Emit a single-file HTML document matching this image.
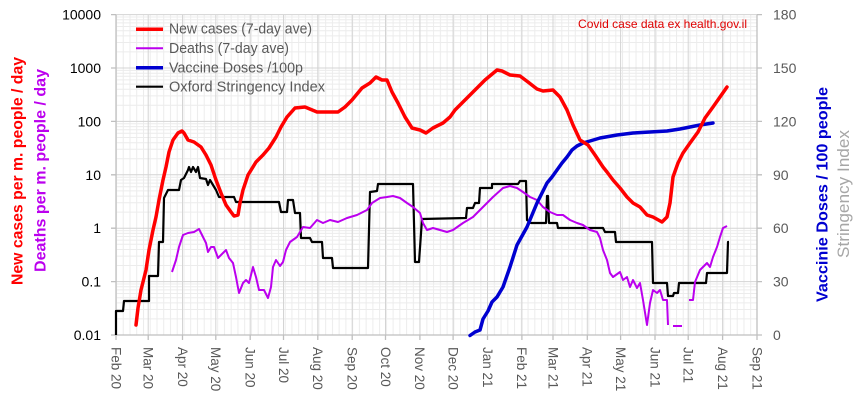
<!DOCTYPE html>
<html><head><meta charset="utf-8"><style>
html,body{margin:0;padding:0;background:#fff;}
svg{display:block;font-family:"Liberation Sans",sans-serif;}
</style></head><body>
<svg width="859" height="413" viewBox="0 0 859 413" xmlns="http://www.w3.org/2000/svg">
<defs>
<pattern id="vmin" patternUnits="userSpaceOnUse" x="116" y="0" width="6.747" height="413">
<line x1="0.5" y1="0" x2="0.5" y2="413" stroke="#ececec" stroke-width="1"/>
</pattern>
</defs>
<rect width="859" height="413" fill="#fff"/>
<!-- minor vertical grid -->
<rect x="116" y="14.6" width="641" height="320.4" fill="url(#vmin)"/>
<!-- minor horizontal grid -->
<path stroke="#ececec" stroke-width="1" fill="none" d="
M116 318.9H757M116 309.5H757M116 302.9H757M116 297.7H757M116 293.5H757M116 289.9H757M116 286.8H757M116 284.0H757
M116 265.5H757M116 256.1H757M116 249.5H757M116 244.3H757M116 240.1H757M116 236.5H757M116 233.4H757M116 230.6H757
M116 212.1H757M116 202.7H757M116 196.1H757M116 190.9H757M116 186.7H757M116 183.1H757M116 180.0H757M116 177.2H757
M116 158.7H757M116 149.3H757M116 142.7H757M116 137.5H757M116 133.3H757M116 129.7H757M116 126.6H757M116 123.8H757
M116 105.3H757M116 95.9H757M116 89.3H757M116 84.1H757M116 79.9H757M116 76.3H757M116 73.2H757M116 70.4H757
M116 51.9H757M116 42.5H757M116 35.9H757M116 30.7H757M116 26.5H757M116 22.9H757M116 19.8H757M116 17.0H757"/>
<!-- major grid -->
<path stroke="#d4d4d4" stroke-width="1" fill="none" d="
M116 14.6H757M116 68H757M116 121.4H757M116 174.8H757M116 228.2H757M116 281.6H757
M148.2 14.6V335M182.5 14.6V335M215.8 14.6V335M250.2 14.6V335M283.5 14.6V335M317.8 14.6V335M352.2 14.6V335M385.5 14.6V335M419.9 14.6V335M453.1 14.6V335M487.5 14.6V335M521.9 14.6V335M553 14.6V335M587.3 14.6V335M620.6 14.6V335M655 14.6V335M688.2 14.6V335M722.6 14.6V335"/>
<!-- axes -->
<path stroke="#bfbfbf" stroke-width="1.3" fill="none" d="
M116 14.6V335H757V14.6
M111 14.6H116M111 68H116M111 121.4H116M111 174.8H116M111 228.2H116M111 281.6H116M111 335H116
M757 14.6H762M757 68H762M757 121.4H762M757 174.8H762M757 228.2H762M757 281.6H762M757 335H762
M116 335V340M148.2 335V340M182.5 335V340M215.8 335V340M250.2 335V340M283.5 335V340M317.8 335V340M352.2 335V340M385.5 335V340M419.9 335V340M453.1 335V340M487.5 335V340M521.9 335V340M553 335V340M587.3 335V340M620.6 335V340M655 335V340M688.2 335V340M722.6 335V340M757 335V340"/>

<!-- Stringency (black) -->
<polyline fill="none" stroke="#000" stroke-width="2.2" stroke-linejoin="round" points="116,335 116,311 123,311 124,301 149,301 149,276 158,276 159,242 163,242 164,198 168,190 179,190 181,180 184,178 188,170 189,167 191,172 193,167 196,172 198,167 200,178 206,179 208,185 210,180 213,185 216,190 219,197 234,197 236,202 279,202 281,212 287,212 288,200 293,200 295,213 300,213 301,238 310,238 312,242 322,242 323,258 332,258 333,268 368,268 370,192 377,191 378,184 413,184 415,262 419,262 422,219 466,218 467,208 473,208 475,203 479,203 480,188 492,188 492,184 518,184 520,181 526,181 527,220 531,223 546,223 547,196 548,196 549,223 557,223 558,228 603,228 605,232 615,232 616,242 652,242 653,283 667,283 668,296 673,296 674,293 678,293 679,283 706,283 707,273 727,273 728,242 729,242"/>

<!-- Deaths (purple) -->
<g fill="none" stroke="#bb00ee" stroke-width="2" stroke-linejoin="round">
<polyline points="172,272 176,260 179,247 183,235 188,233 194,232 199,229 203,237 206,243 208,252 211,247 214,247 218,258 223,253 226,250 229,258 233,263 236,277 239,293 243,283 246,280 249,283 253,267 256,277 259,290 264,290 268,298 271,287 273,267 276,260 280,266 283,262 286,250 290,242 297,237 303,227 310,228 317,220 323,223 330,220 338,222 347,218 357,215 367,210 372,203 380,198 387,197 393,196 400,198 407,203 413,207 420,213 423,223 427,230 433,228 440,230 447,232 453,230 463,223 473,217 483,207 493,197 503,188 510,186 517,188 523,192 530,197 537,200 543,207 550,212 557,215 563,215 570,220 577,223 583,225 590,230 597,232 600,238 603,250 607,260 610,273 613,277 620,272 623,280 627,277 630,287 633,280 637,288 640,283 643,300 647,325 650,303 653,290 657,293 660,290 663,300 667,300 668,325"/>
<polyline points="673,326 682,326"/>
<polyline points="689,300 693,300 695,282 700,270 703,267 707,263 710,267 713,257 717,247 720,237 723,228 727,226"/>
</g>

<!-- Vaccine (blue) -->
<polyline fill="none" stroke="#0000d0" stroke-width="3.5" stroke-linejoin="round" stroke-linecap="round" points="470,335.5 475,332 480,330 483,319 488,311 492,302 497,297 503,287 510,267 517,245 522,236 527,227 532,215 537,203 542,193 547,183 552,177 557,170 562,163 567,157 572,150 577,146 583,143 590,141 600,138 617,135 633,133 650,132 667,131 680,129 690,127 700,125 713,123"/>

<!-- New cases (red) -->
<polyline fill="none" stroke="#ff0000" stroke-width="3.5" stroke-linejoin="round" stroke-linecap="round" points="136,325 138,308 141,290 146,270 149,250 153,230 156,217 159,200 163,180 166,167 169,152 173,140 178,133 182,131 184,133 188,140 194,142 201,147 206,155 211,165 216,180 221,193 226,205 231,212 234,216 238,215 240,203 243,190 248,175 256,162 263,155 269,148 276,137 281,127 287,117 295,108 305,107 317,112 327,112 338,112 345,107 352,100 362,88 370,83 376,77 382,80 387,80 392,92 398,103 405,117 412,128 420,130 426,133 433,128 443,123 450,117 455,110 463,102 473,92 485,80 497,70 502,71 510,75 520,76 528,82 537,89 543,91 553,90 560,97 567,110 573,125 580,140 588,145 595,155 603,167 607,172 613,180 620,188 627,197 633,203 640,207 647,215 653,217 662,222 667,217 670,203 673,177 678,163 683,153 690,143 698,132 705,118 713,107 720,97 727,87"/>

<!-- Left tick labels -->
<g font-size="14" fill="#000" text-anchor="end">
<text x="101" y="19.6">10000</text>
<text x="101" y="73">1000</text>
<text x="101" y="126.4">100</text>
<text x="101" y="179.8">10</text>
<text x="101" y="233.2">1</text>
<text x="101" y="286.6">0.1</text>
<text x="101" y="340">0.01</text>
</g>
<!-- Right tick labels -->
<g font-size="14" fill="#595959" text-anchor="start">
<text x="773" y="19.6">180</text>
<text x="773" y="73">150</text>
<text x="773" y="126.4">120</text>
<text x="773" y="179.8">90</text>
<text x="773" y="233.2">60</text>
<text x="773" y="286.6">30</text>
<text x="773" y="340">0</text>
</g>
<!-- Bottom labels -->
<g font-size="13.5" fill="#595959" text-anchor="start">
<text transform="translate(116,347) rotate(90)" dy="0.35em">Feb 20</text>
<text transform="translate(148.2,347) rotate(90)" dy="0.35em">Mar 20</text>
<text transform="translate(182.5,347) rotate(90)" dy="0.35em">Apr 20</text>
<text transform="translate(215.8,347) rotate(90)" dy="0.35em">May 20</text>
<text transform="translate(250.2,347) rotate(90)" dy="0.35em">Jun 20</text>
<text transform="translate(283.5,347) rotate(90)" dy="0.35em">Jul 20</text>
<text transform="translate(317.8,347) rotate(90)" dy="0.35em">Aug 20</text>
<text transform="translate(352.2,347) rotate(90)" dy="0.35em">Sep 20</text>
<text transform="translate(385.5,347) rotate(90)" dy="0.35em">Oct 20</text>
<text transform="translate(419.9,347) rotate(90)" dy="0.35em">Nov 20</text>
<text transform="translate(453.1,347) rotate(90)" dy="0.35em">Dec 20</text>
<text transform="translate(487.5,347) rotate(90)" dy="0.35em">Jan 21</text>
<text transform="translate(521.9,347) rotate(90)" dy="0.35em">Feb 21</text>
<text transform="translate(553,347) rotate(90)" dy="0.35em">Mar 21</text>
<text transform="translate(587.3,347) rotate(90)" dy="0.35em">Apr 21</text>
<text transform="translate(620.6,347) rotate(90)" dy="0.35em">May 21</text>
<text transform="translate(655,347) rotate(90)" dy="0.35em">Jun 21</text>
<text transform="translate(688.2,347) rotate(90)" dy="0.35em">Jul 21</text>
<text transform="translate(722.6,347) rotate(90)" dy="0.35em">Aug 21</text>
<text transform="translate(757,347) rotate(90)" dy="0.35em">Sep 21</text>
</g>

<!-- Axis titles -->
<text transform="translate(17,171) rotate(-90)" dy="0.35em" text-anchor="middle" font-size="16" font-weight="bold" fill="#ff0000" textLength="228" lengthAdjust="spacingAndGlyphs">New cases per m. people / day</text>
<text transform="translate(40,170.5) rotate(-90)" dy="0.35em" text-anchor="middle" font-size="16" font-weight="bold" fill="#bb00ee" textLength="203" lengthAdjust="spacingAndGlyphs">Deaths per m. people / day</text>
<text transform="translate(822,194.5) rotate(-90)" dy="0.35em" text-anchor="middle" font-size="16" font-weight="bold" fill="#0000d0" textLength="215" lengthAdjust="spacingAndGlyphs">Vaccinie Doses / 100 people</text>
<text transform="translate(843,194) rotate(-90)" dy="0.35em" text-anchor="middle" font-size="17" fill="#a6a6a6" textLength="128" lengthAdjust="spacingAndGlyphs">Stringency Index</text>

<!-- Watermark -->
<text x="578" y="28" font-size="12" fill="#e00000" textLength="169" lengthAdjust="spacingAndGlyphs">Covid case data ex  health.gov.il</text>

<!-- Legend -->
<line x1="136" y1="29.3" x2="163" y2="29.3" stroke="#ff0000" stroke-width="3.5"/>
<line x1="136" y1="48.3" x2="163" y2="48.3" stroke="#bb00ee" stroke-width="2"/>
<line x1="136" y1="67.7" x2="163" y2="67.7" stroke="#0000d0" stroke-width="3.5"/>
<line x1="136" y1="86.7" x2="163" y2="86.7" stroke="#000" stroke-width="2.2"/>
<g font-size="14.5" fill="#595959">
<text x="169" y="33.5" textLength="143" lengthAdjust="spacingAndGlyphs">New cases (7-day ave)</text>
<text x="169" y="53" textLength="120" lengthAdjust="spacingAndGlyphs">Deaths (7-day ave)</text>
<text x="169" y="72.3" textLength="134" lengthAdjust="spacingAndGlyphs">Vaccine Doses /100p</text>
<text x="169" y="91.5" textLength="156" lengthAdjust="spacingAndGlyphs">Oxford Stringency Index</text>
</g>
</svg>
</body></html>
